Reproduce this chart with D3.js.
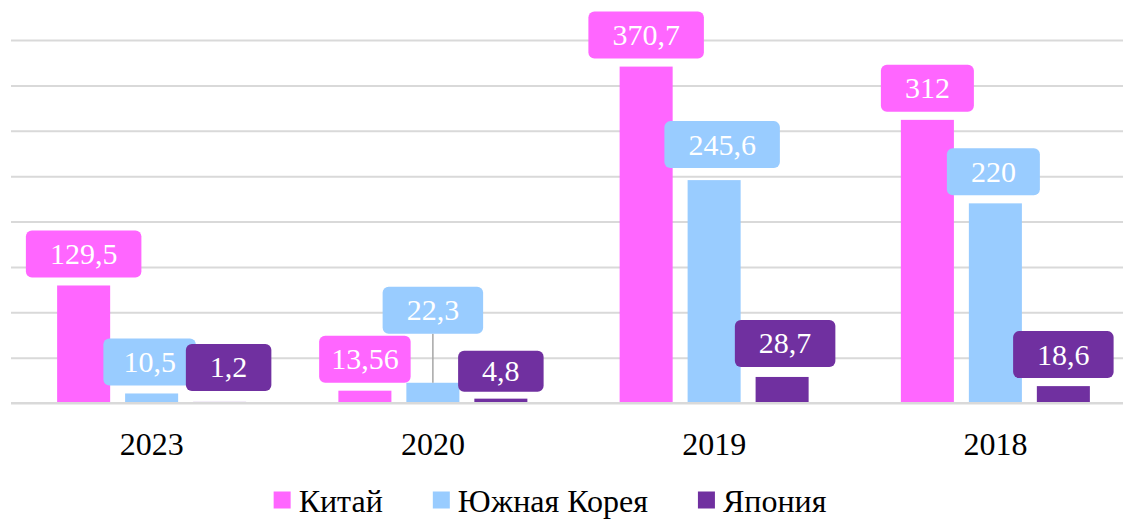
<!DOCTYPE html>
<html>
<head>
<meta charset="utf-8">
<script src="https://cdn.jsdelivr.net/npm/d3@7"></script>
<style>
  html, body { margin: 0; padding: 0; background: #fff; }
  svg { display: block; }
  svg text { font-family: "Liberation Serif", "Times New Roman", serif; }
</style>
</head>
<body>
<div id="chart"></div>
<script>
// data
const years = ["2023", "2020", "2019", "2018"];
const seriesNames = ["Китай", "Южная Корея", "Япония"];
const china = [129.5, 13.56, 370.7, 312];
const korea = [10.5, 22.3, 245.6, 220];
const japan = [1.2, 4.8, 28.7, 18.6];
const yMax = 400;
const yStep = 50;

// hand nudges for callouts that were moved in the original (layout only)
const labelNudge = {
  "2023|Южная Корея": { dx: -2, dy: 0, pad: 20 },
  "2023|Япония": { dx: 9, dy: -3 },
  "2020|Китай": { dx: 0, dy: 0, pad: 12 },
  "2020|Южная Корея": { dx: 0, dy: -41, leader: true },
  "2020|Япония": { dx: 0, dy: 1, h: 41 },
  "2019|Южная Корея": { dx: 8, dy: -4 },
  "2019|Япония": { dx: 3, dy: -2 },
  "2018|Южная Корея": { dx: -2, dy: 0 }
};

window.onload = function () {
  const W = 1123, H = 519;
  const plot = { left: 11, right: 1136, top: 40, bottom: 403 };
  const colors = ["#ff66ff", "#99ccff", "#7030a0"];

  const rows = years.map((yr, i) => ({
    year: yr,
    values: [china[i], korea[i], japan[i]]
  }));

  const svg = d3.select("#chart").append("svg")
    .attr("width", W).attr("height", H);

  const x0 = d3.scaleBand().domain(years).range([plot.left, plot.right]).padding(0);
  const x1 = d3.scaleBand().domain(seriesNames).range([-94.5, 94.5])
    .paddingInner(0.22).paddingOuter(0);
  const y = d3.scaleLinear().domain([0, yMax]).range([plot.bottom, plot.top]);
  const color = d3.scaleOrdinal().domain(seriesNames).range(colors);

  // gridlines
  svg.append("g")
    .attr("transform", `translate(${plot.left},0)`)
    .call(d3.axisLeft(y).tickValues(d3.range(0, yMax + 1, yStep))
      .tickSize(-(plot.right - plot.left)).tickFormat(""))
    .call(g => g.select(".domain").remove())
    .selectAll("line")
    .attr("stroke", "#d9d9d9")
    .attr("stroke-width", 2);

  const groups = svg.append("g").selectAll("g")
    .data(rows).join("g")
    .attr("transform", d => `translate(${x0(d.year) + x0.bandwidth() / 2},0)`);

  // bars
  groups.selectAll("rect")
    .data(d => d.values.map((v, j) => ({ year: d.year, key: seriesNames[j], value: v })))
    .join("rect")
    .attr("x", d => x1(d.key))
    .attr("y", d => y(d.value))
    .attr("width", x1.bandwidth())
    .attr("height", d => y(0) - y(d.value))
    .attr("fill", d => color(d.key));

  // baseline drawn over the tiny bars, as in the original
  svg.append("line")
    .attr("x1", plot.left).attr("x2", plot.right)
    .attr("y1", y(0)).attr("y2", y(0))
    .attr("stroke", "#d9d9d9").attr("stroke-width", 2);

  // x axis labels
  const xAxis = svg.append("g")
    .attr("transform", `translate(0,${plot.bottom})`)
    .call(d3.axisBottom(x0).tickSize(0).tickPadding(0));
  xAxis.select(".domain").remove();
  xAxis.selectAll("text")
    .attr("y", 52)
    .attr("dy", 0)
    .attr("fill", "#000")
    .attr("font-family", null)
    .style("font-size", "32px");

  // callout labels
  const boxH = 47, gap = 8, pad = 24, fs = 30;
  const labels = groups.selectAll("g.lbl")
    .data(d => d.values.map((v, j) => ({ year: d.year, key: seriesNames[j], value: v })))
    .join("g").attr("class", "lbl");

  labels.each(function (d) {
    const g = d3.select(this);
    const n = labelNudge[d.year + "|" + d.key] || { dx: 0, dy: 0 };
    const h = n.h || boxH;
    const p = n.pad || pad;
    const cx = x1(d.key) + x1.bandwidth() / 2;
    const barTop = y(d.value);
    const bx = cx + n.dx;
    const bottom = barTop - gap + n.dy;
    const top = bottom - h;

    if (n.leader) {
      g.append("line")
        .attr("x1", cx).attr("x2", cx)
        .attr("y1", bottom).attr("y2", barTop)
        .attr("stroke", "#a6a6a6").attr("stroke-width", 1.5);
    }
    const rect = g.append("rect").attr("fill", color(d.key)).attr("rx", 6).attr("ry", 6);
    const txt = g.append("text")
      .attr("x", bx)
      .attr("y", top + h / 2 + fs * 0.33)
      .attr("text-anchor", "middle")
      .attr("fill", "#fff")
      .style("font-size", fs + "px")
      .text(String(d.value).replace(".", ","));
    const tw = txt.node().getComputedTextLength();
    const bw = tw + p * 2;
    rect.attr("x", bx - bw / 2).attr("y", top).attr("width", bw).attr("height", h);
  });

  // legend
  const legend = svg.append("g");
  const sq = 17, sqGap = 8, itemGap = 50;
  let lx = 0;
  seriesNames.forEach(name => {
    const it = legend.append("g");
    it.append("rect")
      .attr("y", -sq / 2).attr("width", sq).attr("height", sq)
      .attr("fill", color(name));
    const t = it.append("text")
      .attr("x", sq + sqGap).attr("y", 12)
      .attr("fill", "#000")
      .style("font-size", "32px")
      .text(name);
    const w = sq + sqGap + t.node().getComputedTextLength();
    it.attr("transform", `translate(${lx},0)`);
    lx += w + itemGap;
  });
  const total = lx - itemGap;
  legend.attr("transform", `translate(${550 - total / 2},500)`);
};
</script>
</body>
</html>
